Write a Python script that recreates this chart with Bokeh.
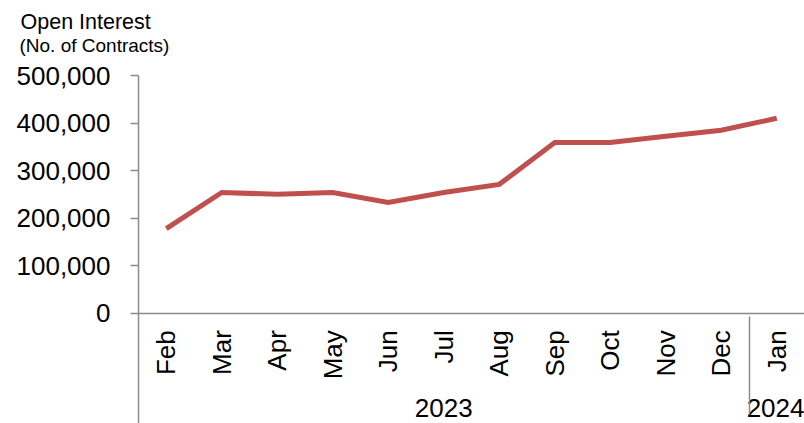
import math
from bokeh.plotting import figure
from bokeh.models import FactorRange, Range1d, NumeralTickFormatter, FixedTicker, Title
from bokeh.embed import file_html
from bokeh.resources import INLINE

years = ["2023"] * 11 + ["2024"]
months = ["Feb", "Mar", "Apr", "May", "Jun", "Jul", "Aug", "Sep", "Oct", "Nov", "Dec", "Jan"]
open_interest = [178000, 254000, 250000, 254000, 233000, 254000, 271000,
                 359000, 359000, 372000, 385000, 410000]
y_ticks = [0, 100000, 200000, 300000, 400000, 500000]

FONT = "Liberation Sans"
AXIS_COLOR = "#8c8c8c"
LINE_COLOR = "#C0504D"

factors = list(zip(years, months))
x_range = FactorRange(*factors, factor_padding=0, group_padding=0,
                      subgroup_padding=0, range_padding=0)

# the y range reaches below zero so that the frame (and the y-axis rule, which
# Excel continues as the outer category separator) extends under the category labels
p = figure(x_range=x_range, y_range=Range1d(-232000, 500000),
           width=804, height=423, output_backend="svg", toolbar_location=None,
           min_border_left=138, min_border_right=0, min_border_top=75,
           min_border_bottom=0, title="Open Interest")

p.line(x=factors, y=open_interest, line_color=LINE_COLOR, line_width=5,
       line_join="miter")

p.outline_line_color = None
p.xgrid.grid_line_color = None
p.ygrid.grid_line_color = None
p.background_fill_color = "white"
p.border_fill_color = "white"

# titles
p.title.text_font = FONT
p.title.text_font_size = "21.5px"
p.title.text_font_style = "normal"
p.title.text_color = "black"
p.title.align = "left"
p.title.offset = -118
p.title.standoff = -42
sub_title = Title(text="(No. of Contracts)", text_font=FONT, text_font_size="19px",
                  text_color="black", text_font_style="normal", align="left",
                  offset=-119, standoff=40)
p.add_layout(sub_title, "above")

# y axis
ya = p.yaxis[0]
ya.ticker = FixedTicker(ticks=y_ticks)
ya.formatter = NumeralTickFormatter(format="0,0")
ya.major_label_text_font = FONT
ya.major_label_text_font_size = "26px"
ya.major_label_text_color = "black"
ya.major_label_standoff = 20
ya.major_tick_out = 8
ya.major_tick_in = 0
ya.minor_tick_out = 0
ya.minor_tick_in = 0
ya.axis_line_color = AXIS_COLOR
ya.major_tick_line_color = AXIS_COLOR
ya.axis_line_width = 1.5
ya.major_tick_line_width = 1.5

# x axis, pinned at y = 0
xa = p.xaxis[0]
xa.fixed_location = 0
xa.major_label_orientation = math.pi / 2
xa.group_label_orientation = "horizontal"
xa.major_label_text_font = FONT
xa.major_label_text_font_size = "26px"
xa.major_label_text_color = "black"
xa.group_text_font = FONT
xa.group_text_font_size = "26px"
xa.group_text_color = "black"
xa.group_text_font_style = "normal"
xa.major_label_standoff = 17
xa.major_tick_out = 0
xa.major_tick_in = 0
xa.axis_line_color = AXIS_COLOR
xa.axis_line_width = 1.5
xa.separator_line_color = AXIS_COLOR
xa.separator_line_width = 1.5

open("out.html", "w").write(file_html(p, INLINE))
